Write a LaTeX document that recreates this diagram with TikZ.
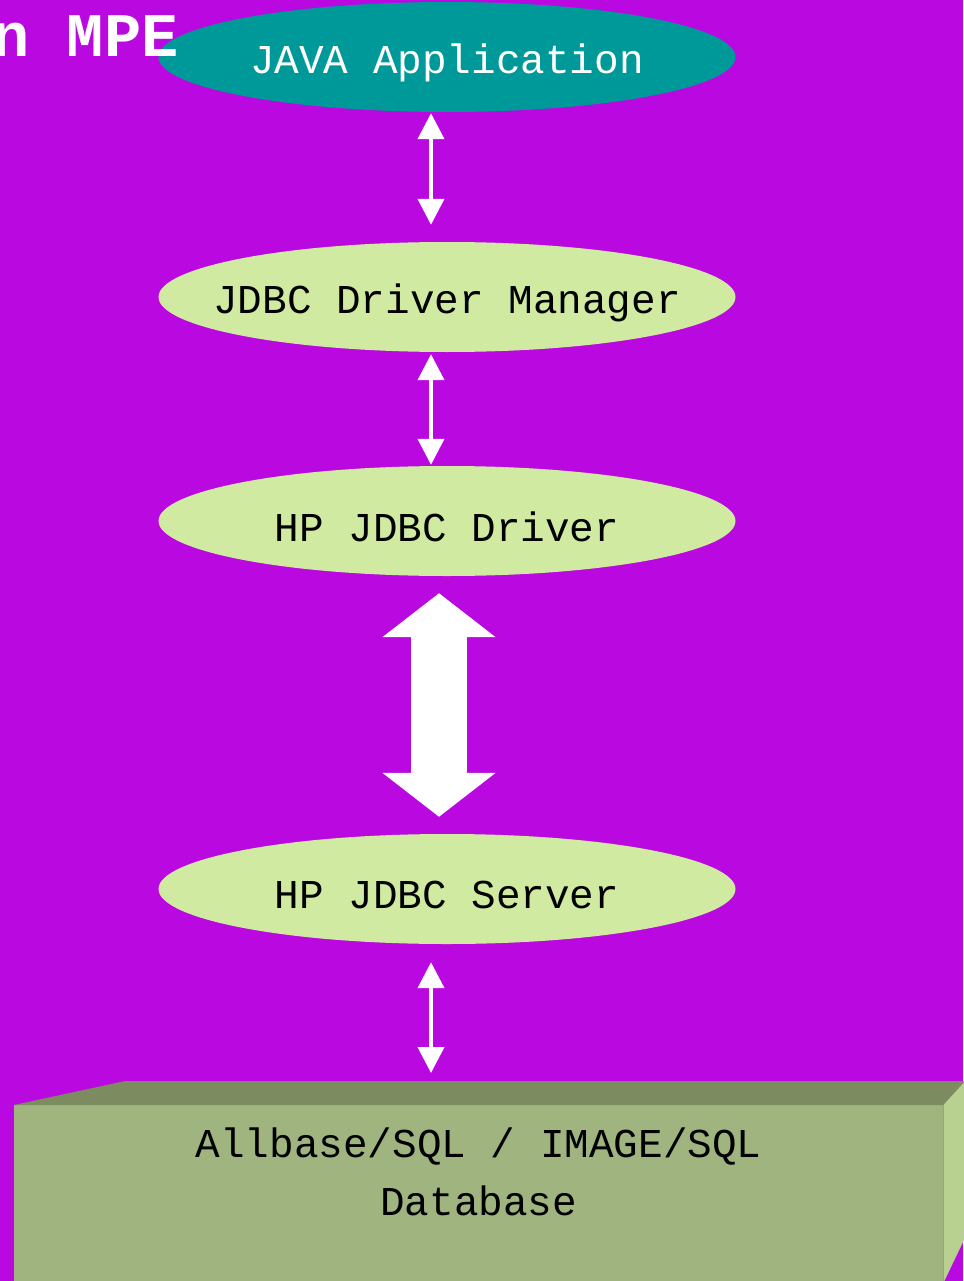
\documentclass[tikz,border=0pt]{standalone}
\usepackage{fontspec}
\setmonofont{Liberation Mono}
\usepackage{xcolor}
\usetikzlibrary{shapes.geometric,arrows.meta}
\definecolor{mpepurple}{RGB}{186,8,224}
\definecolor{javateal}{RGB}{0,153,153}
\definecolor{jdbcgreen}{RGB}{208,235,161}
\definecolor{dbfront}{RGB}{160,180,128}
\definecolor{dbtop}{RGB}{125,140,96}
\definecolor{dbside}{RGB}{184,208,144}

\begin{document}
\begin{tikzpicture}[
    x                  = 1pt,
    y                  = -1pt,
    every node/.style  = {font=\ttfamily\fontsize{41}{58}\selectfont},
    every label/.style = {yshift=-6pt},
    layer/.style       = {ellipse, fill=jdbcgreen, minimum width=577pt, minimum height=110pt, inner sep=0pt},
    link/.style        = {draw=white, line width=4pt, {Triangle[width=26pt,length=26pt]}-{Triangle[width=26pt,length=26pt]}},
    biglink/.style     = {draw=white, line width=56pt, {Triangle[width=111pt,length=44pt]}-{Triangle[width=111pt,length=44pt]}}
  ]
\useasboundingbox (0,0) rectangle (963,1281);
\fill[mpepurple] (0,0) rectangle (963,1281);

\node[layer, fill=javateal, label={[text=white]center:JAVA Application}] (java) at (447,57) {};
\node[layer, label={center:JDBC Driver Manager}] (manager) at (447,297) {};
\node[layer, label={center:HP JDBC Driver}]      (driver)  at (447,521) {};
\node[layer, label={center:HP JDBC Server}]      (server)  at (447,889) {};

\node[font=\ttfamily\bfseries\fontsize{62}{62}\selectfont, text=white, anchor=base east] (title) at (182,57) {on MPE};

% database box
\node[fill=dbfront, minimum width=929pt, minimum height=200pt, inner sep=0pt, anchor=north west] (db) at (14,1105) {};
\fill[dbtop] (db.north west) -- ++(111,-24) -- (990,1081) -- (db.north east) -- cycle;
\fill[dbside] (db.north east) -- ++(22,-24) -- ++(0,156) -- ++(-22,46) -- cycle;
\node[align=center] (dblabel) at ([yshift=-67pt]db.north) {Allbase/SQL / IMAGE/SQL\\Database};
\coordinate (dbtop) at ([yshift=32pt]db.north);

\draw[link]    ([xshift=-16pt,yshift=-1pt]java.south)     -- ([xshift=-16pt,yshift=17pt]manager.north);
\draw[link]    ([xshift=-16pt,yshift=-2pt]manager.south)  -- ([xshift=-16pt,yshift=1pt]driver.north);
\draw[biglink] ([xshift=-8pt,yshift=-17pt]driver.south)   -- ([xshift=-8pt,yshift=17pt]server.north);
\draw[link]    ([xshift=-16pt,yshift=-18pt]server.south)  -- ([xshift=-16pt]server.south |- dbtop);
\end{tikzpicture}
\end{document}
